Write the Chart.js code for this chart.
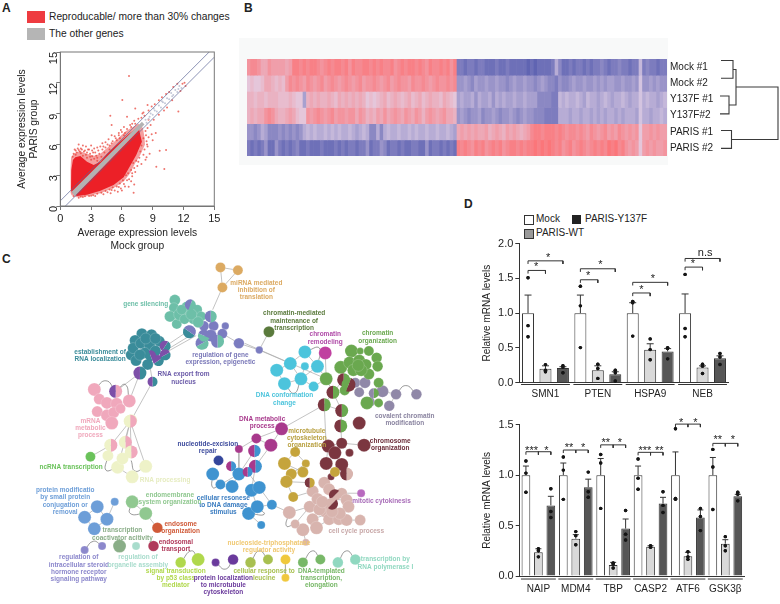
<!DOCTYPE html>
<html>
<head>
<meta charset="utf-8">
<title>PARIS figure</title>
<script src="https://cdn.jsdelivr.net/npm/chart.js@4"></script>
<style>
  html, body { margin: 0; background: #fff; }
  #page { position: relative; width: 780px; height: 604px; overflow: hidden; font-family: "Liberation Sans", sans-serif; color: #222; }
  #page canvas { position: absolute; }
  .txt { position: absolute; white-space: nowrap; line-height: 1; }
  .letter { font-weight: bold; font-size: 12px; }
  .box { position: absolute; }
</style>
</head>
<body>
<div id="page">
  <div class="box" style="left:239px;top:38px;width:429px;height:127px;background:#f8f9f9"></div>

  <div class="txt letter" style="left:2px;top:2px">A</div>
  <div class="txt letter" style="left:244px;top:2px">B</div>
  <div class="txt letter" style="left:2px;top:253px">C</div>
  <div class="txt letter" style="left:464px;top:198px">D</div>

  <div class="box" style="left:27px;top:11px;width:18px;height:12px;background:#ee3b40"></div>
  <div class="txt" style="left:49px;top:12px;font-size:10.25px">Reproducable/ more than 30% changes</div>
  <div class="box" style="left:27px;top:28px;width:18px;height:12px;background:#b5b5b5"></div>
  <div class="txt" style="left:49px;top:29px;font-size:10.25px">The other genes</div>

  <div class="box" style="left:524px;top:215px;width:8px;height:8px;background:#fff;border:1px solid #333"></div>
  <div class="txt" style="left:536px;top:214px;font-size:10px">Mock</div>
  <div class="box" style="left:572px;top:215px;width:9px;height:9px;background:#222"></div>
  <div class="txt" style="left:585px;top:214px;font-size:10px">PARIS-Y137F</div>
  <div class="box" style="left:524px;top:229px;width:8px;height:8px;background:#999;border:1px solid #333"></div>
  <div class="txt" style="left:536px;top:228px;font-size:10px">PARIS-WT</div>

  <canvas id="scatter-chart" width="240" height="212" style="left:0;top:40px"></canvas>
  <canvas id="heat-chart" width="480" height="115" style="left:240px;top:50px"></canvas>
  <canvas id="dendro-chart" width="60" height="115" style="left:720px;top:50px"></canvas>
  <canvas id="network-chart" width="470" height="359" style="left:0;top:245px"></canvas>
  <canvas id="bars-top-chart" width="315" height="170" style="left:465px;top:235px"></canvas>
  <canvas id="bars-bottom-chart" width="315" height="185" style="left:465px;top:415px"></canvas>
</div>

<script>
// ---------- panel A values ----------
var redCloud = [[1.04,1.56],[1.07,3.51],[1.23,4.48],[1.46,4.74],[1.95,4.87],[2.6,4.32],[3.25,3.99],[3.9,4.32],[4.55,5.06],[5.36,5.84],[6.66,7.01],[7.63,7.73],[7.79,6.92],[7.95,6.27],[7.4,4.97],[6.75,3.83],[6.17,2.79],[5.19,2.05],[3.9,1.49],[2.6,1.1],[1.62,0.97],[1.14,1.3]];
var redHalo = [[1,1.3],[1,3.6],[1.05,4.7],[1.3,5.1],[1.9,5.35],[2.6,5.1],[3.3,4.9],[3.9,5.1],[4.5,5.6],[5.3,6.3],[6.4,7.3],[7.6,8],[8.05,7.6],[8.2,6.7],[8.25,6],[7.8,5],[7.3,4.2],[6.8,3.2],[6.2,2.4],[5.2,1.75],[3.9,1.25],[2.6,0.95],[1.6,0.85],[1.1,1.05]];
var greyBand = [[1.1,1.4],[1.4,0.95],[8.2,7.95],[7.95,8.2]];
var redOutliers = [[6.69,12.66],[6.04,10.32],[4.87,8.8],[11.5,9.2],[9.68,5.39],[10.3,5.45],[10.13,3.6],[9.35,3.83],[8.4,4.74],[8.5,9.84],[7.3,9.5],[6.5,8.7],[5,7.9],[1.79,6],[7.14,1.3],[6.66,1.88],
  [8.6,9.3],[8.9,9.7],[9.2,9.9],[9.6,10.3],[9.9,10.6],[10.3,10.9],[10.6,11.1],[11,11.6],[11.4,11.9],[11.9,11.9],[12.1,12],[12.2,11.7],[11.7,11.2],[10.9,10.3],[10.4,9.6],[10.1,9.3],[9.6,8.9],[9.1,8.4],[8.8,7.9],[8.5,7.6],[8.6,8.4],[8.2,8.8],[8.1,9.1],[8,9],[7.9,8.6],[7.6,8.5],[7.2,8.3],[7,8],[6.8,7.9],[6.2,7.7],[5.9,7.4],[6.3,7.1],[5.7,7.1],[5.3,6.8],[5,6.9],[4.7,6.5],[4.4,6.2],[4.1,6.1],[3.9,5.8],[3.6,5.7],[3.3,5.6],[3,5.9],[2.8,5.5],[2.5,5.8],[2.2,5.9],[2,5.6],[1.7,5.6],[1.5,5.4],[1.3,5.1],[1.6,5.2],[1.9,5.3],[2.3,5.3],[2.6,5.2],[2.9,5.1],[3.2,5.2],[3.5,4.9],[3.8,5.1],[4.1,5.5],[4.4,5.7],[4.8,5.9],[5.1,6.3],[5.5,6.4],[5.8,6.6],[6.2,6.9],
  [2.2,4.9],[2.6,4.7],[3,4.5],[3.3,4.6],[3.6,4.4],[1.5,5],[1.2,4.8],[2.9,4.8],[4,4.8],[4.3,5.2],[4.8,5.5],[1.4,5.5],[1.8,5.45],[2.1,5.5],[2.4,5.4],[2.7,5.5],[3.1,5.4],[3.4,5.2],[3.7,5.4],[4.2,5.8],[4.6,6],[5,6.1],[5.4,6.6],[5.7,6.9],[6,7.2],[6.5,7.5],[6.9,7.7],[7.3,8],[2,5.15],[2.5,5],[3.1,4.85],[3.6,4.7],
  [8.3,7.3],[8.1,6.6],[8.4,6.3],[8.5,5.8],[8.2,5.5],[7.9,5.9],[7.8,5.3],[7.7,4.7],[7.4,4.4],[7.1,4.2],[7.5,3.9],[6.9,3.5],[6.6,3.2],[6.4,3],[6.1,2.5],[6.7,2.6],[5.8,2.2],[5.5,1.9],[5.1,1.8],[4.8,1.6],[4.4,1.45],[4,1.3],[3.6,1.2],[3.2,1.05],[2.8,0.98],[2.4,0.95],[2,0.9],[5.9,1.7],[6.3,1.9],[5.3,1.5],[7,2.9],[7.3,3.3],[7.9,4.1],[8.3,4.5],[8.7,5.1],[8.6,6.7],[8.9,7],[9,6.4],[9.3,7.1],
  [8.35,6.9],[8.45,6],[8.1,5],[7.6,4.3],[7.2,3.7],[7,3.2],[6.5,2.5],[6.2,2.15],[5.7,1.85],[5,1.55],[4.6,1.35],[4.2,1.15],[3.4,0.98],[3,1],[2.2,0.88],[1.8,0.8],[1.3,0.95],[6.9,2.4],[7.2,2.1],[6,1.5],[5.6,1.4],[4.9,1.25]];
var otherGenes = [[8.3,8.4],[8.6,8.5],[8.8,9],[9,8.9],[9.2,9.3],[9.4,9.2],[9.6,9.8],[9.8,9.6],[10,10.1],[10.2,10],[10.4,10.5],[10.6,10.4],[10.8,11],[11,10.8],[11.2,11.3],[11.4,11.1],[11.6,11.7],[11.8,11.5],[9.1,9.5],[9.9,10.2],[10.9,10.7],[11.5,11.4],[8.4,8.1],[8.7,8.7]];
var foldLines = [[0,0.5],[14.5,15],null,[0.5,0],[15,14.5]];
var scatterTicks = [0,3,6,9,12,15];

// ---------- panel B values (one number per column, -9 blue to 9 red) ----------
var heatRowLabels = ["Mock #1","Mock #2","Y137F #1","Y137F#2","PARIS #1","PARIS #2"];
var heatMock1 = [6,7,7,6,4,4,6,5,5,5,5,4,5,8,8,7,8,7,8,8,7,6,7,8,7,8,8,7,8,6,8,7,7,8,8,7,8,7,8,7,7,8,6,7,8,7,8,8,7,8,7,6,8,7,7,8,7,8,6,8,
  -7,-7,-8,-7,-7,-8,-7,-7,-8,-8,-8,-7,-8,-8,-7,-8,-8,-8,-8,-8,-9,-8,-9,-8,-8,-8,-8,-7,-3,-6,-8,-8,-7,-8,-7,-7,-8,-7,-8,-7,-7,-6,-7,-8,-7,-7,-6,-7,-7,-8,-7,-7,-2,-7,-6,-7,-7,-8,-7,-7];
var heatMock2 = [1,2,1,1,2,4,4,3,2,3,2,5,7,6,7,6,5,7,6,5,6,7,5,6,7,6,5,6,7,6,5,6,7,5,6,6,7,6,5,6,7,5,6,7,6,6,5,7,6,6,7,6,5,6,7,6,6,7,6,7,
  -5,-5,-4,-5,-6,-4,-5,-5,-4,-5,-5,-4,-5,-5,-6,-5,-4,-5,-5,-4,-5,-5,-6,-5,-4,-5,-6,-6,-7,-5,-6,-6,-5,-4,-5,-5,-4,-5,-5,-4,-5,-4,-5,-4,-4,-5,-5,-4,-5,-5,-4,-5,-1,-5,-5,-4,-5,-4,-5,-5];
var heatY137F1 = [3,3,2,3,3,2,3,3,3,2,2,2,3,2,1,1,-4,3,4,3,4,3,3,4,3,2,4,3,4,3,4,3,4,3,1,2,1,2,3,4,2,3,4,3,2,3,4,2,3,4,2,3,4,3,3,2,4,3,2,1,
  -4,-3,-4,-4,-3,-5,-3,-4,-4,-3,-5,-3,-4,-3,-4,-4,-3,-4,-4,-3,-4,-4,-4,-6,-6,-6,-6,-7,-7,-2,-3,-2,-3,-3,-2,-3,-4,-2,-3,-3,-4,-3,-2,-3,-4,-3,-3,-2,-3,-4,-3,-3,-1,-3,-2,-3,-3,-4,-3,-2];
var heatY137F2 = [3,4,3,4,4,6,7,6,4,3,3,4,5,4,2,1,1,6,5,6,7,6,5,6,7,5,6,6,5,6,6,4,6,5,3,4,3,5,4,6,4,5,6,5,4,6,5,4,6,5,3,5,6,5,4,5,6,4,4,3,
  -5,-4,-5,-6,-5,-5,-4,-6,-5,-5,-4,-5,-6,-5,-5,-4,-5,-6,-5,-4,-5,-5,-6,-6,-6,-7,-7,-7,-7,-3,-3,-3,-4,-3,-3,-4,-3,-3,-4,-3,-4,-3,-4,-3,-3,-4,-3,-4,-3,-3,-3,-4,-1,-3,-3,-4,-3,-3,-2,-3];
var heatParis1 = [-5,-5,-6,-5,-3,-4,-6,-6,-6,-5,-6,-5,-6,-5,-6,-5,-3,-2,-3,-2,-3,-3,-2,-3,-2,-3,-2,-3,-3,-2,-3,-4,-3,-2,-3,-6,-6,-3,-6,-3,-2,-3,-3,-2,-3,-3,-2,-3,-2,-3,-3,-2,-3,-3,-2,-3,-3,-2,-3,-4,
  4,5,4,5,4,5,4,4,5,3,4,5,4,3,5,4,5,4,3,4,5,7,8,8,7,8,8,8,7,8,7,6,7,7,6,7,6,5,7,6,5,6,7,5,6,5,7,6,5,6,5,6,1,5,5,6,5,6,5,5];
var heatParis2 = [-7,-8,-7,-8,-7,-5,-8,-8,-5,-7,-8,-7,-8,-7,-6,-8,-8,-7,-8,-8,-8,-7,-8,-8,-8,-7,-8,-7,-8,-7,-7,-8,-7,-7,-5,-8,-7,-7,-5,-6,-8,-7,-7,-8,-7,-8,-8,-7,-7,-8,-8,-5,-8,-7,-7,-8,-7,-8,-7,-8,
  8,7,8,7,6,8,7,8,6,7,8,7,8,6,7,8,8,7,8,7,8,8,9,8,9,8,9,8,7,8,6,7,8,6,7,8,7,6,7,8,7,8,7,9,8,9,7,8,6,5,6,5,1,5,6,5,6,5,5,6];
// dendrogram: [merge distance, row position]
var dendroMock = [[1,0.33],[13,0.33],[13,1.34],[1,1.34]];
var dendroY137F = [[0,2.35],[9,2.35],[9,3.37],[0,3.37]];
var dendroParis = [[1,4.32],[11.5,4.32],[11.5,5.34],[1,5.34]];
var dendroJoinTop = [[13,0.84],[16,0.84],[16,2.87],[9,2.87]];
var dendroRoot = [[16,1.84],[58,1.84],[58,4.83],[11.5,4.83]];

// ---------- panel C values (node: x, y, radius) ----------
var miRNANodes = [[220,261,5],[238,264,5],[222,282,5]];
var silencingNodes = [[173,295,5.5],[172,303,5],[168,312,5.5],[175,320,5],[196,305,5],[186,310,6],[178,310,6],[192,315,5],[183,315,5],[200,312,5],[185,302,5],[180,305,5],[190,310,5.5],[197,318,5.5]];
var regulationNodes = [[203,322,5],[213,322,5],[225,322,3.7],[222,330,5],[239,340,5.3],[260,347,3.7],[210,332,6]];
var localizationNodes = [[139,330,5.5],[149,331,5.5],[132,337,5.5],[157,338,5.5],[128,352,5.5],[130,345,5.5],[133,358,5.5],[145,362,5.5],[138,340,5.5],[147,342,5.5],[142,350,5.5],[153,348,5.5],[137,352,5.5],[143,335,5.5],[153,335,5.5]];
var mRNANodes = [[90,388,6.5],[95,398,5.5],[126,400,6.5],[93,411,5.5],[103,402,6],[113,403,6],[103,415,6],[110,412,5.5],[117,408,5],[108,423,6.5]];
var processingNodes = [[104,457,5.5],[114,469,6.5],[119,460,6],[129,479,6.5],[143,468,6.5],[128,420,6]];
var ncRNANodes = [[86,458,5]];
var damageNodes = [[212,476,6.5],[220,487,5],[232,489,6.5],[239,476,6.5],[252,493,6.5],[260,490,6.5],[249,517,6.5],[258,510,6.5],[273,508,5],[262,529,4]];
var excisionNodes = [[218,462,5]];
var metabolicNodes = [[283,429,6.5],[257,439,5],[272,446,6.5],[239,450,4]];
var microtubuleNodes = [[297,453,5],[286,465,6.5],[308,465,4],[305,474,5.5],[293,476,5.5],[288,484,6.2],[295,500,5],[338,474,5]];
var chromosomeNodes = [[331,447,6.5],[345,444,5.5],[338,454,6.5],[353,454,4],[368,446,6.5],[329,465,6.5],[345,466,6.5],[363,423,6.5],[334,479,3.5]];
var cellCycleNodes = [[291,516,6.5],[327,485,6],[315,494,6],[312,510,6],[320,502,6],[332,492,6],[328,515,6],[315,523,6],[319,532,6.5],[305,534,6.5],[297,528,4.5],[332,523,6],[342,523,6],[350,524,6],[364,524,5.5],[345,496,5.5],[350,503,6],[352,510,6],[343,517,6],[322,513,6],[325,505,6],[335,515,6],[308,547,3.5]];
var mitoticNodes = [[365,496,4]];
var conformationNodes = [[307,349,6.5],[292,361,6.5],[307,364,4],[320,364,6.5],[278,368,6.5],[286,382,6.5],[303,377,6.5],[316,385,5]];
var remodelingNodes = [[328,350,6.5]];
var maintenanceNodes = [[270,328,5.5]];
var organizationNodes = [[355,348,6.5],[364,348,3.5],[373,348,5],[381,355,5.3],[382,364,5.3],[344,365,6.5],[329,377,6.5],[373,372,5.5],[353,360,6],[363,358,6],[370,362,5.5],[357,368,6],[365,368,6],[362,363,6],[348,389,5],[383,381,5],[371,402,6.5],[383,402,4.5]];
var covalentNodes = [[359,381,5],[369,381,5.5],[363,391,5],[387,390,6],[401,393,5.3],[422,393,5.3],[394,405,5.3],[374,401,5]];
var proteinModNodes = [[111,505,4],[93,510,6.5],[80,521,6.5],[103,523,6.5],[90,533,6.5]];
var endomembraneNodes = [[129,505,6.5],[143,517,6.5]];
var endosomeNodes = [[155,532,5.3]];
var coactivatorNodes = [[116,551,6.5]];
var organelleNodes = [[133,551,4]];
var endosomalNodes = [[151,551,5.3]];
var steroidNodes = [[80,555,4],[98,551,4]];
var p53Nodes = [[179,568,5.3],[197,565,6.5]];
var microtubuleLocNodes = [[215,568,4],[233,565,5.3]];
var leucineNodes = [[251,568,5.3],[269,565,5]];
var nucleosideNodes = [[287,565,5],[287,584,4]];
var templatedNodes = [[305,568,5],[323,565,5]];
var polymeraseNodes = [[341,568,5.3],[359,565,5.3]];

var teal = "#6dbfa8", purple = "#7b7cc0", violet = "#7d4fa8", deepTeal = "#3a8c9a", pink = "#f0a8bc", pale = "#eef2c8";
var blue = "#3f93d0", magenta = "#a8398c", gold = "#c5a43c", maroon = "#7b3640", rose = "#d8b4ae", green = "#6aa84f";

// pie nodes: x, y, radius, colour on one side, colour on the other, cut angle
var splitNodes = [
  [189,300,5.5,teal,purple,-1.2],[210,312,6,teal,purple,-1.57],[201,340,6.5,teal,purple,-0.5],[217,338,6.5,teal,purple,-1.57],[203,332,6,teal,purple,0.4],[188,328,6.5,deepTeal,purple,0.6],
  [156,358,5.5,deepTeal,violet,-0.6],[163,343,5.5,deepTeal,violet,-1],[163,352,5.5,deepTeal,violet,-0.5],[148,353,5.5,deepTeal,violet,1.2],
  [137,371,6.5,deepTeal,violet,-1.57],[150,380,5,deepTeal,violet,-1.57],[112,390,6.5,pink,violet,-1.57],
  [127,421,6.5,pink,pale,-1.57],[107,446,6.5,pink,pale,-1.57],[122,443,6.5,pink,pale,-1.57],[128,453,6.5,pink,pale,-1.57],
  [255,452,6.2,blue,magenta,-1.57],[256,468,6.5,blue,magenta,-1.57],[231,468,5,blue,magenta,-1.57],[248,474,5,blue,magenta,-1.57],
  [312,485,5,gold,maroon,-1.57],[350,476,6.5,rose,maroon,-1.57],[338,498,6,rose,maroon,-0.8],[335,507,6,maroon,rose,-0.8],
  [347,378,6.5,green,maroon,-1.57],[352,383,7,maroon,green,-1.2],[336,391,6.5,green,maroon,-1.57],[327,404,6.5,green,maroon,-1.57],[345,410,6.5,green,maroon,-1.57],[344,426,6.5,green,maroon,-1.57],[378,392,5,green,"#9088a8",-1.57]
];

var straightEdges = [[220,261,238,264],[220,261,222,282],[238,264,222,282],[222,282,212,305],[165,342,190,325],[166,346,192,330],[163,350,195,332],
  [137,371,112,390],[137,371,126,400],[150,380,128,420],[150,380,147,362],[137,371,140,362],[127,421,128,453],[127,421,122,443],[127,421,107,446],[127,421,143,468],[127,421,114,469],[107,446,86,458],[114,469,129,479],
  [239,340,260,347],[222,330,239,340],[260,347,270,328],[260,347,292,361],[245,340,329,377],[328,350,329,377],[329,377,336,391],[329,377,316,385],[329,377,320,364],[327,404,336,391],[327,404,283,429],[327,404,345,410],[327,404,329,447],[345,410,344,426],[344,426,345,444],[336,391,347,378],[336,391,345,410],
  [307,349,292,361],[292,361,278,368],[278,368,286,382],[286,382,303,377],[303,377,316,385],[292,361,303,377],[307,364,303,377],[320,364,303,377],[307,349,320,364],
  [255,452,239,476],[256,468,252,493],[283,429,257,439],[257,439,272,446],[257,439,239,450],[272,446,256,468],[283,429,272,446],[239,450,239,476],[239,476,231,468],[239,476,220,487],[212,476,220,487],[232,489,239,476],[248,474,260,490],[260,490,273,508],[252,493,258,510],[273,508,291,516],[249,517,262,529],[258,510,273,508],
  [297,453,286,465],[297,453,308,465],[305,474,293,476],[288,484,295,500],[293,476,308,465],[288,484,312,485],[295,500,315,494],[286,465,305,474],
  [331,447,345,444],[331,447,329,465],[338,454,345,466],[345,444,368,446],[345,466,350,476],[329,465,338,474],[338,474,334,479],
  [327,485,338,498],[315,494,335,507],[312,510,343,517],[320,502,350,503],[291,516,312,510],[345,496,365,496],[350,524,364,524],[319,532,332,523],[305,534,308,547],[297,528,312,510],[315,523,352,510],[328,515,345,496],
  [371,402,383,402],[383,381,378,392],[378,392,371,402],[387,390,401,393],[401,393,394,405],[359,381,369,381],[363,391,369,381],
  [111,505,103,523],[93,510,103,523],[93,510,80,521],[80,521,90,533],[90,533,103,523],[129,505,143,517],[143,517,155,532],[287,565,287,584]];
var curvedEdges = [[401,393,411,384,422,393],[80,555,89,546,98,551],[179,568,190,556,197,565],[215,568,225,575,233,565],[251,568,260,556,269,565],[305,568,315,556,323,565],[341,568,350,556,359,565],[129,505,127,517,143,517],[90,388,102,379,112,390],[112,390,122,383,126,400],[286,382,296,392,303,377],[212,476,212,490,220,487],[143,468,132,473,128,462],[114,469,102,472,104,457],[307,349,322,345,320,364],[291,516,288,530,297,528],[249,517,265,518,258,510]];

// label: colour, centre x, first line y, lines
var netLabels = [
  ["#6dbfa8",143,299,["gene silencing"]],
  ["#3a8c9a",96,349,["establishment of","RNA localization"]],
  ["#6a5aa8",182,372.5,["RNA export from","nucleus"]],
  ["#7a78b8",220,352,["regulation of gene","expression, epigenetic"]],
  ["#dcaa62",257,277,["miRNA mediated","inhibition of","translation"]],
  ["#5a7a3c",296,309,["chromatin-mediated","maintenance of","transcription"]],
  ["#b04ca8",328,331,["chromatin","remodeling"]],
  ["#6aa84f",382,330,["chromatin","organization"]],
  ["#4cc4dc",286,394.5,["DNA conformation","change"]],
  ["#a8398c",263,419,["DNA metabolic","process"]],
  ["#8a84a0",410,416,["covalent chromatin","modification"]],
  ["#b8a040",309,431,["microtubule","cytoskeleton","organization"]],
  ["#6b2c38",395,442,["chromosome","organization"]],
  ["#3c4a9c",207,445,["nucleotide-excision","repair"]],
  ["#3a7cc0",223,501,["cellular resonese","to DNA damage","stimulus"]],
  ["#a86cb8",386,504,["mitotic cytokinesis"]],
  ["#c8a8a8",360,536,["cell cycle process"]],
  ["#f0a8bc",86,421,["mRNA","metabolic","process"]],
  ["#6ac25a",66,469,["ncRNA transcription"]],
  ["#e6ecc0",163,482,["RNA processing"]],
  ["#6d9ed8",60,493,["protein modificatio","by small protein","conjugation or","removal"]],
  ["#90c890",168,498,["endomembrane","system organization"]],
  ["#d05a38",179,528,["endosome","organization"]],
  ["#8aae88",119,535,["transcription","coactivator acitivity"]],
  ["#b03a5a",174,547,["endosomal","transport"]],
  ["#8c88cc",74,563,["regulation of","intracellular steroid","hormone receptor","signaling pathway"]],
  ["#a8dccc",135,563,["regulation of","organelle assembly"]],
  ["#b0d84c",174,577,["signal transduction","by p53 class","mediator"]],
  ["#6a3a9c",223,584,["protein localization","to microtubule","cytoskeleton"]],
  ["#f0c870",270,548,["nucleoside-triphosphatase","regulator activity"]],
  ["#a8c050",265,577,["cellular response to","leucine"]],
  ["#78b868",324,577,["DNA-templated","transcription,","elongation"]],
  ["#90d8c0",390,565,["transcription by","RNA polymerase I"]]
];

// ---------- panel D values ----------
var topGenes = ["SMN1","PTEN","HSPA9","NEB"];
var topMock = [1,1,1,1];
var topWT = [0.2,0.18,0.475,0.22];
var topY137F = [0.21,0.12,0.45,0.35];
var topMockErr = [1.26,1.26,1.15,1.276];
var topWTErr = [0.243,0.243,0.56,0.243];
var topY137FErr = [0.23,0.157,0.49,0.386];
var topMockDots = [[1.51,0.82,0.66],[1.386,1.105,0.505],[1.17,1.148,0.67],[1.557,0.78,0.66]];
var topWTDots = [[0.26,0.18,0.157],[0.267,0.205,0.062],[0.63,0.476,0.33],[0.267,0.238,0.133]];
var topY137FDots = [[0.243,0.224,0.143],[0.18,0.143,0.024],[0.505,0.49,0.343],[0.42,0.37,0.262]];
var topBrackets = [[0,1,1.614],[0,2,1.752],[3,4,1.48],[3,5,1.638],[6,7,1.29],[6,8,1.443],[9,10,1.662],[9,11,1.786]];
var topMarks = [[0.46,1.66,"*"],[1.15,1.8,"*"],[3.45,1.53,"*"],[4.15,1.69,"*"],[6.5,1.34,"*"],[7.15,1.49,"*"],[9.45,1.71,"*"],[10.15,1.86,"n.s"]];

var bottomGenes = ["NAIP","MDM4","TBP","CASP2","ATF6","GSK3\u03b2"];
var bottomMock = [1,1,1,1,1,1];
var bottomWT = [0.235,0.37,0.11,0.29,0.195,0.32];
var bottomY137F = [0.7,0.88,0.47,0.72,0.58,0.79];
var bottomMockErr = [1.09,1.12,1.165,1.09,1.23,1.175];
var bottomWTErr = [0.27,0.41,0.135,0.3,0.235,0.36];
var bottomY137FErr = [0.79,0.96,0.565,0.78,0.655,0.81];
var bottomMockDots = [[1.14,1.02,0.83],[1.18,1.05,0.76],[1.205,1.12,0.67],[1.16,0.97,0.86],[1.46,0.77,0.76],[1.255,1.08,0.66]];
var bottomWTDots = [[0.27,0.25,0.19],[0.44,0.4,0.31],[0.13,0.12,0.08],[0.3,0.29,0.285],[0.24,0.19,0.165],[0.39,0.3,0.25]];
var bottomY137FDots = [[0.865,0.64,0.58],[1.03,0.835,0.78],[0.65,0.415,0.357],[0.835,0.7,0.63],[0.67,0.59,0.45],[0.83,0.81,0.745]];
var bottomBrackets = [[0,2,1.232,1],[3,5,1.249,1],[6,8,1.3,1],[9,11,1.226,1],[12,14,1.506,1],[15,17,1.315,1]];
var bottomMarks = [[0.45,1.235,"***"],[1.65,1.235,"*"],[3.45,1.27,"**"],[4.6,1.27,"*"],[6.4,1.32,"**"],[7.55,1.32,"*"],[9.55,1.235,"***"],[10.7,1.235,"**"],[12.45,1.52,"*"],[13.6,1.52,"*"],[15.4,1.345,"**"],[16.6,1.345,"*"]];

// ---------- common ----------
Chart.defaults.font.family = '"Liberation Sans", sans-serif';
Chart.defaults.color = "#222";
Chart.defaults.animation = false;
Chart.defaults.responsive = false;
Chart.defaults.plugins.legend.display = false;
Chart.defaults.plugins.tooltip.enabled = false;

function toPoints(pairs) {
  return pairs.map(function (p) {
    return p ? { x: p[0], y: p[1] } : { x: null, y: null };
  });
}

function fixedSize(prop, size) {
  return function (scale) { scale[prop] = size; };
}

// ---------- A ----------
var frameBox = {
  id: "frameBox",
  afterDatasetsDraw: function (chart) {
    var a = chart.chartArea, ctx = chart.ctx;
    ctx.save();
    ctx.strokeStyle = "#777";
    ctx.lineWidth = 1;
    ctx.strokeRect(a.left, a.top, a.right - a.left, a.bottom - a.top);
    ctx.restore();
  }
};

new Chart(document.getElementById("scatter-chart"), {
  type: "scatter",
  data: {
    datasets: [
      { data: toPoints(foldLines), showLine: true, pointRadius: 0, borderColor: "#5a6496", borderWidth: 0.7 },
      { data: toPoints(otherGenes), pointRadius: 1, backgroundColor: "#c3c8d8", borderWidth: 0 },
      { data: toPoints(greyBand), showLine: true, fill: "shape", pointRadius: 0, borderWidth: 0, backgroundColor: "#b3b3b3" },
      { data: toPoints(redOutliers), pointRadius: 1, backgroundColor: "rgba(232,70,60,0.75)", borderWidth: 0 },
      { data: toPoints(redCloud), showLine: true, fill: "shape", pointRadius: 0, borderWidth: 0, backgroundColor: "#ec2027" },
      { data: toPoints(redHalo), showLine: true, fill: "shape", pointRadius: 0, borderWidth: 0, backgroundColor: "rgba(236,80,80,0.55)" }
    ]
  },
  options: {
    layout: { padding: { left: 0, right: 25.7, top: 12, bottom: 0 } },
    scales: {
      x: {
        min: 0, max: 15,
        afterBuildTicks: function (scale) { scale.ticks = scatterTicks.map(function (v) { return { value: v }; }); },
        afterFit: fixedSize("height", 46),
        grid: { drawOnChartArea: false, tickLength: 4, color: "#777" },
        border: { color: "#777" },
        ticks: { font: { size: 11 }, padding: 2, maxRotation: 0 },
        title: { display: true, text: ["Average expression levels", "Mock group"], font: { size: 10.25 }, padding: 0 }
      },
      y: {
        min: 0, max: 15,
        afterBuildTicks: function (scale) { scale.ticks = scatterTicks.map(function (v) { return { value: v }; }); },
        afterFit: fixedSize("width", 60.3),
        grid: { drawOnChartArea: false, tickLength: 4, color: "#777" },
        border: { color: "#777" },
        ticks: { font: { size: 11 }, padding: 2, minRotation: 90, maxRotation: 90 },
        title: { display: true, text: ["Average expression levels", "PARIS group"], font: { size: 10.25 }, padding: { top: 16, bottom: 0 } }
      }
    }
  },
  plugins: [frameBox]
});

// ---------- B ----------
function heatColor(v) {
  var mid = [226, 208, 230];
  var end = v > 0 ? [251, 118, 122] : [96, 100, 178];
  var t = Math.abs(v) / 9;
  var c = mid.map(function (m, i) { return Math.round(m + (end[i] - m) * t); });
  return "rgb(" + c.join(",") + ")";
}

var heatRows = [heatMock1, heatMock2, heatY137F1, heatY137F2, heatParis1, heatParis2];

new Chart(document.getElementById("heat-chart"), {
  type: "bar",
  data: {
    labels: heatMock1.map(function (v, i) { return i; }),
    datasets: heatRows.map(function (row, i) {
      return {
        label: heatRowLabels[i],
        data: row.map(function () { return 1; }),
        backgroundColor: row.map(heatColor),
        barPercentage: 1,
        categoryPercentage: 1,
        borderWidth: 0
      };
    })
  },
  options: {
    layout: { padding: { left: 7, right: 0, top: 4.7, bottom: 5 } },
    scales: {
      x: { stacked: true, display: false },
      y: {
        stacked: true, min: 0, max: 6, reverse: true, position: "right",
        afterFit: fixedSize("width", 53),
        afterBuildTicks: function (scale) {
          scale.ticks = heatRowLabels.map(function (l, i) { return { value: i + 0.5 }; });
        },
        grid: { display: false, drawTicks: false },
        border: { display: false },
        ticks: {
          font: { size: 10 }, padding: 3, color: "#222", autoSkip: false,
          callback: function (value) { return heatRowLabels[Math.floor(value)]; }
        }
      }
    }
  }
});

function joinLines(lines) {
  var out = [];
  lines.forEach(function (line) {
    out = out.concat(line, [null]);
  });
  return out;
}

new Chart(document.getElementById("dendro-chart"), {
  type: "scatter",
  data: {
    datasets: [{
      data: toPoints(joinLines([dendroMock, dendroY137F, dendroParis, dendroJoinTop, dendroRoot])),
      showLine: true, pointRadius: 0, borderColor: "#3a3a3a", borderWidth: 1.1
    }]
  },
  options: {
    layout: { padding: { top: 4.7, bottom: 5 } },
    scales: {
      x: { display: false, min: 0, max: 60 },
      y: { display: false, min: 0, max: 6, reverse: true }
    }
  }
});

// ---------- C ----------
var nodeGroups = [
  [miRNANodes, "#dcaa62"], [silencingNodes, teal], [regulationNodes, purple], [localizationNodes, deepTeal],
  [mRNANodes, pink], [processingNodes, pale], [ncRNANodes, "#6ac25a"], [damageNodes, blue], [excisionNodes, "#34469c"],
  [metabolicNodes, magenta], [microtubuleNodes, gold], [chromosomeNodes, maroon], [cellCycleNodes, rose], [mitoticNodes, "#b96ac0"],
  [conformationNodes, "#4cc4dc"], [remodelingNodes, "#c040a0"], [maintenanceNodes, "#5a7a3c"], [organizationNodes, green],
  [covalentNodes, "#9088a8"], [proteinModNodes, "#6d9ed8"], [endomembraneNodes, "#90c890"], [endosomeNodes, "#d05a38"],
  [coactivatorNodes, "#8aae88"], [organelleNodes, "#a8dccc"], [endosomalNodes, "#b03a5a"], [steroidNodes, "#8c88cc"],
  [p53Nodes, "#b0d84c"], [microtubuleLocNodes, "#6a3a9c"], [leucineNodes, "#a8c050"], [nucleosideNodes, "#f0c83c"],
  [templatedNodes, "#78b868"], [polymeraseNodes, "#90d8c0"]
];

var networkExtras = {
  id: "networkExtras",
  afterDatasetsDraw: function (chart) {
    var ctx = chart.ctx, sx = chart.scales.x, sy = chart.scales.y;
    ctx.save();
    splitNodes.forEach(function (n) {
      var x = sx.getPixelForValue(n[0]), y = sy.getPixelForValue(n[1]);
      [[n[3], 0], [n[4], Math.PI]].forEach(function (part) {
        ctx.beginPath();
        ctx.arc(x, y, n[2], n[5] + part[1], n[5] + part[1] + Math.PI);
        ctx.closePath();
        ctx.fillStyle = part[0];
        ctx.fill();
      });
    });
    ctx.font = "bold 6.5px 'Liberation Sans', sans-serif";
    ctx.textAlign = "center";
    ctx.textBaseline = "middle";
    netLabels.forEach(function (label) {
      ctx.fillStyle = label[0];
      label[3].forEach(function (line, i) {
        ctx.fillText(line, sx.getPixelForValue(label[1]), sy.getPixelForValue(label[2] + i * 7.5));
      });
    });
    ctx.restore();
  }
};

var straightPoints = [];
straightEdges.forEach(function (e) {
  straightPoints.push({ x: e[0], y: e[1] }, { x: e[2], y: e[3] }, { x: null, y: null });
});
var curvedPoints = [];
curvedEdges.forEach(function (e) {
  curvedPoints.push({ x: e[0], y: e[1] }, { x: e[2], y: e[3] }, { x: e[4], y: e[5] }, { x: null, y: null });
});

new Chart(document.getElementById("network-chart"), {
  type: "bubble",
  data: {
    datasets: nodeGroups.map(function (group) {
      return {
        data: group[0].map(function (n) { return { x: n[0], y: n[1], r: n[2] }; }),
        backgroundColor: group[1],
        borderColor: "rgba(255,255,255,0.35)",
        borderWidth: 0.5
      };
    }).concat([
      { type: "scatter", data: curvedPoints, showLine: true, tension: 0.5, pointRadius: 0, borderColor: "#555", borderWidth: 0.6 },
      { type: "scatter", data: straightPoints, showLine: true, pointRadius: 0, borderColor: "#a9a9a9", borderWidth: 0.7 }
    ])
  },
  options: {
    scales: {
      x: { display: false, type: "linear", min: 0, max: 470 },
      y: { display: false, type: "linear", min: 245, max: 604, reverse: true }
    }
  },
  plugins: [networkExtras]
});

// ---------- D ----------
function barData(values, offset) {
  return values.map(function (v, i) { return { x: i * 3 + offset, y: v }; });
}

function dotData(groups, offset) {
  var out = [];
  groups.forEach(function (dots, i) {
    dots.forEach(function (v) { out.push({ x: i * 3 + offset, y: v }); });
  });
  return out;
}

function bracketData(brackets, drop) {
  var out = [];
  brackets.forEach(function (b) {
    out.push({ x: b[0], y: b[2] - drop }, { x: b[0], y: b[2] }, { x: b[1], y: b[2] }, { x: b[1], y: b[2] - drop }, { x: null, y: null });
    if (b[3]) {
      out.push({ x: b[0] + 1, y: b[2] }, { x: b[0] + 1, y: b[2] - drop }, { x: null, y: null });
    }
  });
  return out;
}

function groupLineData(genes, below) {
  var out = [];
  genes.forEach(function (g, i) {
    out.push({ x: i * 3 - 0.4, y: below }, { x: i * 3 + 2.4, y: below }, { x: null, y: null });
  });
  return out;
}

function buildBarChart(canvasId, config) {
  var errorBars = {
    id: "errorBars",
    afterDatasetsDraw: function (chart) {
      var ctx = chart.ctx, sy = chart.scales.y;
      ctx.save();
      ctx.strokeStyle = "#333";
      ctx.lineWidth = 1;
      config.series.forEach(function (s, d) {
        var meta = chart.getDatasetMeta(d + 2);
        s.err.forEach(function (top, i) {
          var bar = meta.data[i], y = sy.getPixelForValue(top);
          ctx.beginPath();
          ctx.moveTo(bar.x, bar.y);
          ctx.lineTo(bar.x, y);
          ctx.moveTo(bar.x - config.cap, y);
          ctx.lineTo(bar.x + config.cap, y);
          ctx.stroke();
        });
      });
      ctx.fillStyle = "#222";
      ctx.textAlign = "center";
      ctx.textBaseline = "middle";
      ctx.font = "11px 'Liberation Sans', sans-serif";
      config.marks.forEach(function (m) {
        ctx.fillText(m[2], chart.scales.x.getPixelForValue(m[0]), sy.getPixelForValue(m[1]));
      });
      // dots go over the error bars
      var dotMeta = chart.getDatasetMeta(0);
      ctx.fillStyle = "#151515";
      dotMeta.data.forEach(function (pt) {
        ctx.beginPath();
        ctx.arc(pt.x, pt.y, 1.7, 0, Math.PI * 2);
        ctx.fill();
      });
      ctx.restore();
    }
  };
  var dots = [];
  config.series.forEach(function (s, d) { dots = dots.concat(dotData(s.dots, d)); });

  new Chart(document.getElementById(canvasId), {
    type: "bar",
    data: {
      datasets: [
        { type: "scatter", data: dots, pointRadius: 1.7, backgroundColor: "#151515", borderWidth: 0, order: -1 },
        {
          type: "scatter", showLine: true, pointRadius: 0, clip: false, borderColor: "#333", borderWidth: 1,
          data: bracketData(config.brackets, config.drop).concat(groupLineData(config.genes, config.below))
        }
      ].concat(config.series.map(function (s, d) {
        return {
          label: s.name,
          data: barData(s.values, d),
          backgroundColor: s.color,
          borderColor: "#333",
          borderWidth: 1,
          barThickness: config.barWidth,
          grouped: false,
          inflateAmount: 0
        };
      }))
    },
    options: {
      layout: { padding: config.padding },
      scales: {
        x: {
          type: "linear", min: -0.5, max: config.genes.length * 3 - 0.5, offset: false,
          afterFit: fixedSize("height", config.axisHeight),
          afterBuildTicks: function (scale) {
            scale.ticks = config.genes.map(function (g, i) { return { value: i * 3 + 1 }; });
          },
          grid: { display: false, drawTicks: false, offset: false },
          border: { color: "#333", width: 1 },
          ticks: {
            font: { size: 10 }, padding: config.labelPad, autoSkip: false, maxRotation: 0,
            callback: function (value) { return config.genes[Math.round((value - 1) / 3)]; }
          }
        },
        y: {
          min: 0, max: config.max,
          afterFit: fixedSize("width", config.axisWidth),
          grid: { drawOnChartArea: false, tickLength: 4, color: "#333" },
          border: { color: "#333", width: 1 },
          ticks: {
            stepSize: 0.5, font: { size: 11 }, padding: 2,
            callback: function (value) { return Number(value).toFixed(1); }
          },
          title: { display: true, text: "Relative mRNA levels", font: { size: 10 }, padding: { top: 16, bottom: 0 } }
        }
      }
    },
    plugins: [errorBars]
  });
}

buildBarChart("bars-top-chart", {
  genes: topGenes, max: 2, barWidth: 12, cap: 3.5, drop: 0.045, below: -0.026, labelPad: 6,
  padding: { left: 0, right: 51.3, top: 7.7, bottom: 0 }, axisHeight: 22.3, axisWidth: 54.3,
  brackets: topBrackets, marks: topMarks,
  series: [
    { name: "Mock", values: topMock, err: topMockErr, dots: topMockDots, color: "#fff" },
    { name: "PARIS-WT", values: topWT, err: topWTErr, dots: topWTDots, color: "#d9d9d9" },
    { name: "PARIS-Y137F", values: topY137F, err: topY137FErr, dots: topY137FDots, color: "#565656" }
  ]
});

buildBarChart("bars-bottom-chart", {
  genes: bottomGenes, max: 1.5, barWidth: 8.7, cap: 3, drop: 0.03, below: -0.03, labelPad: 7,
  padding: { left: 0, right: 36, top: 9.7, bottom: 0 }, axisHeight: 24, axisWidth: 54.7,
  brackets: bottomBrackets, marks: bottomMarks,
  series: [
    { name: "Mock", values: bottomMock, err: bottomMockErr, dots: bottomMockDots, color: "#fff" },
    { name: "PARIS-WT", values: bottomWT, err: bottomWTErr, dots: bottomWTDots, color: "#d9d9d9" },
    { name: "PARIS-Y137F", values: bottomY137F, err: bottomY137FErr, dots: bottomY137FDots, color: "#565656" }
  ]
});
</script>
</body>
</html>
